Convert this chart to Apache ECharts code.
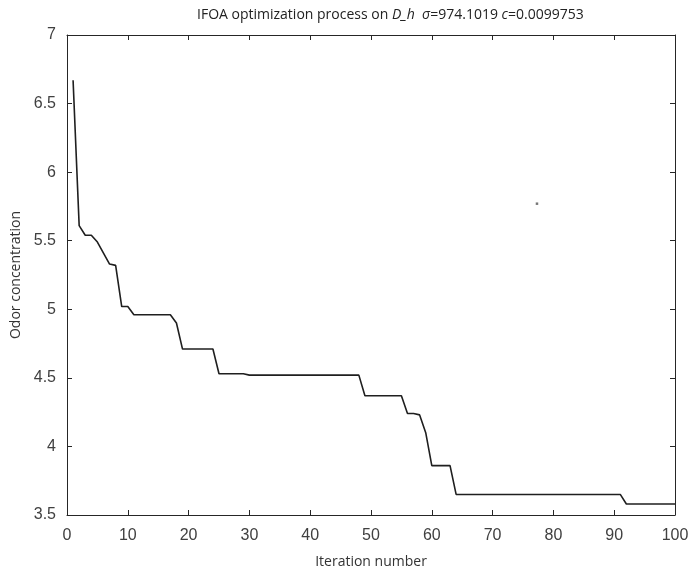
<!DOCTYPE html>
<html>
<head>
<meta charset="utf-8">
<script src="https://cdn.jsdelivr.net/npm/echarts@6/dist/echarts.min.js"></script>
<style>
html,body{margin:0;padding:0;background:#fff;}
#chart{width:692px;height:574px;}
</style>
</head>
<body>
<div id="chart"></div>
<script>
// Best odor concentration per iteration (iterations 1..100)
const odorValues = [
  6.67, 5.61, 5.54, 5.54, 5.49, 5.41, 5.33, 5.32, 5.02, 5.02,
  4.96, 4.96, 4.96, 4.96, 4.96, 4.96, 4.96, 4.90, 4.71, 4.71,
  4.71, 4.71, 4.71, 4.71, 4.53, 4.53, 4.53, 4.53, 4.53, 4.52,
  4.52, 4.52, 4.52, 4.52, 4.52, 4.52, 4.52, 4.52, 4.52, 4.52,
  4.52, 4.52, 4.52, 4.52, 4.52, 4.52, 4.52, 4.52, 4.37, 4.37,
  4.37, 4.37, 4.37, 4.37, 4.37, 4.24, 4.24, 4.23, 4.10, 3.86,
  3.86, 3.86, 3.86, 3.65, 3.65, 3.65, 3.65, 3.65, 3.65, 3.65,
  3.65, 3.65, 3.65, 3.65, 3.65, 3.65, 3.65, 3.65, 3.65, 3.65,
  3.65, 3.65, 3.65, 3.65, 3.65, 3.65, 3.65, 3.65, 3.65, 3.65,
  3.65, 3.58, 3.58, 3.58, 3.58, 3.58, 3.58, 3.58, 3.58, 3.58
];
const firstIteration = 1;
const strayPoint = [[77.3, 5.77]];
const xTicks = {min: 0, max: 100, interval: 10};
const yTicks = {min: 3.5, max: 7, interval: 0.5};
const titleParts = {
  prefix: 'IFOA optimization process on ',
  dataset: 'D_h',
  sigmaLabel: 'σ',
  sigmaValue: '=974.1019 ',
  cLabel: 'c',
  cValue: '=0.0099753'
};
const xName = 'Iteration number';
const yName = 'Odor concentration';

const lineData = odorValues.map((v, i) => [i + firstIteration, v]);

const chart = echarts.init(document.getElementById('chart'), null, {renderer: 'canvas'});
const axisColor = '#262626';
const labelColor = '#404040';
const tickFont = 'Liberation Sans, Arial, sans-serif';
const textFont = 'Open Sans, Noto Sans, sans-serif';

function frameAxis(extra) {
  return Object.assign({
    type: 'value',
    axisLine: {show: true, onZero: false, lineStyle: {color: axisColor, width: 1}},
    axisTick: {show: true, inside: true, length: 5, lineStyle: {color: axisColor}},
    splitLine: {show: false}
  }, extra);
}

chart.setOption({
  animation: false,
  backgroundColor: '#fff',
  title: {
    text: '{n|' + titleParts.prefix + '}{i|' + titleParts.dataset + '}{n|  }{i|' + titleParts.sigmaLabel + '}{n|' + titleParts.sigmaValue + '}{i|' + titleParts.cLabel + '}{n|' + titleParts.cValue + '}',
    left: 192,
    top: 3,
    textStyle: {
      fontWeight: 'normal',
      rich: {
        n: {fontFamily: textFont, fontSize: 14, color: '#222', fontWeight: 'normal'},
        i: {fontFamily: textFont, fontSize: 14, color: '#222', fontStyle: 'italic', fontWeight: 'normal'}
      }
    }
  },
  grid: {left: 67, right: 17, top: 35, bottom: 59, containLabel: false},
  xAxis: [
    frameAxis({
      min: xTicks.min, max: xTicks.max, interval: xTicks.interval, position: 'bottom',
      name: xName, nameLocation: 'middle', nameGap: 40,
      nameTextStyle: {fontFamily: textFont, fontSize: 14, color: '#333'},
      axisLabel: {fontFamily: tickFont, fontSize: 16, color: labelColor, margin: 13}
    }),
    frameAxis({
      min: xTicks.min, max: xTicks.max, interval: xTicks.interval, position: 'top',
      axisLabel: {show: false}
    })
  ],
  yAxis: [
    frameAxis({
      min: yTicks.min, max: yTicks.max, interval: yTicks.interval, position: 'left',
      name: yName, nameLocation: 'middle', nameGap: 38,
      nameTextStyle: {fontFamily: textFont, fontSize: 14, color: '#333'},
      axisLabel: {fontFamily: tickFont, fontSize: 16, color: labelColor, margin: 11}
    }),
    frameAxis({
      min: yTicks.min, max: yTicks.max, interval: yTicks.interval, position: 'right',
      axisLabel: {show: false}
    })
  ],
  series: [
    {
      type: 'line',
      data: lineData,
      showSymbol: false,
      symbol: 'none',
      lineStyle: {color: '#1f1f1f', width: 1.6},
      xAxisIndex: 0, yAxisIndex: 0
    },
    {
      type: 'scatter',
      data: strayPoint,
      symbol: 'rect',
      symbolSize: 2.5,
      itemStyle: {color: '#555'},
      xAxisIndex: 0, yAxisIndex: 0
    }
  ]
});
</script>
</body>
</html>
